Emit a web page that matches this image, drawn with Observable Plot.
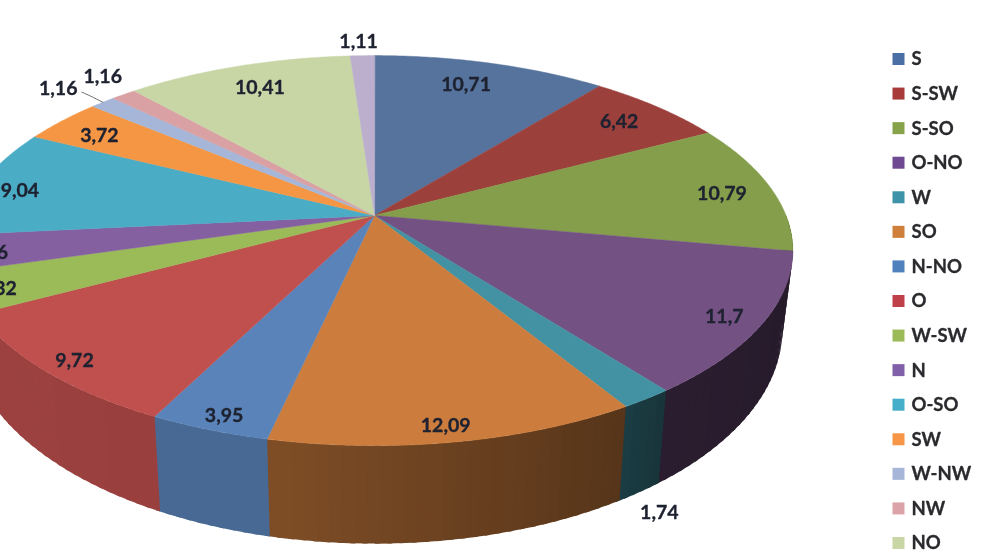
<!DOCTYPE html>
<html><head><meta charset="utf-8">
<style>html,body{margin:0;padding:0;background:#fff;overflow:hidden}
svg{display:block;filter:blur(0.6px)}</style>
<script src="https://cdn.jsdelivr.net/npm/d3@7"></script>
<script src="https://cdn.jsdelivr.net/npm/@observablehq/plot@0.6"></script>
</head><body><div id="chart"></div>
<script>
// Data
const categories = ["S","S-SW","S-SO","O-NO","W","SO","N-NO","O","W-SW","N","O-SO","SW","W-NW","NW","NO","N-NW"];
const values = [10.71,6.42,10.79,11.7,1.74,12.09,3.95,9.72,3.32,2.96,9.04,3.72,1.16,1.16,10.41,1.11];
const topColors = ["#55739c","#9c403c","#849e4b","#735183","#4292a3","#cc7d3d","#5a83b9","#bf504e","#9bbb59","#8460a0","#4bacc6","#f59644","#a5b6d8","#d9a1a3","#c8d6a6","#bbafcd"];
const legendColors = ["#4a6fa5","#a83a3a","#86a34a","#6f4a92","#3f93a8","#cf7f3a","#4f81bd","#c0404a","#9bbb59","#8060a8","#45aec8","#f79646","#a5b6d8","#dba3a8","#c8d6a6"];
// label placement around the pie: distance from the centre, and turn from the slice middle (degrees)
const labelRadius = [.833,.851,.871,.916,1.34,.938,.9415,.93,.93,.925,.893,.857,1.1615,1.141,.8347,1.1065];
const labelTurn = [-1.5,0,1,.6,10.5,.5,-.5,-.6,-.6,-.7,-1.8,-1.1,-1.1,1.7,.4,-.4];
// shading of the rim: angle (deg) -> brightness
const rimAngles = [90,100,143,149,170,192,193,207,241,280];
const rimLight = [.32,.32,.36,.42,.52,.62,.8,.8,.82,.85];

// perspective view of the disc
const view = {cx:374, cy:215, rx:411.5, ry:188.7, k:.18, shrink:.975, ystretch:1.1, depth:75};
const project = (deg, r = 1) => {
  const a = deg * Math.PI / 180, u = r * Math.sin(a), v = r * Math.cos(a), w = 1 + view.k * v;
  return {x: view.cx + view.rx * u / w, y: view.cy - view.ry * v / w};
};
const projectLow = (deg) => {
  const p = project(deg);
  return {x: view.cx + (p.x - view.cx) * view.shrink, y: view.cy + view.depth + (p.y - view.cy) * view.ystretch};
};
const total = d3.sum(values);
const ends = Array.from(d3.cumsum(values), d => d / total * 360);
const starts = ends.map((d, i) => i ? ends[i - 1] : 0);
const mids = ends.map((d, i) => (d + starts[i]) / 2);

// top face polygons
const topFaces = categories.flatMap((c, i) => {
  const n = Math.max(2, Math.ceil((ends[i] - starts[i]) / 0.5));
  const arc = d3.range(n + 1).map(j => project(starts[i] + (ends[i] - starts[i]) * j / n));
  return [project(0, 0), ...arc].map(p => ({...p, id: c, color: topColors[i]}));
});
// rim strips, each overlapping the next so no seams show
const light = d3.scaleLinear(rimAngles, rimLight).clamp(true);
const rimFaces = categories.flatMap((c, i) => {
  const a0 = Math.max(starts[i], 90), a1 = Math.min(ends[i], 275);
  if (a1 <= a0) return [];
  const n = Math.ceil((a1 - a0) / 1.5);
  return d3.range(n).flatMap(j => {
    const t0 = a0 + (a1 - a0) * j / n, t1 = a0 + (a1 - a0) * (j + 1) / n;
    const base = d3.rgb(topColors[i]), f = light((t0 + t1) / 2);
    const color = d3.rgb(base.r * f, base.g * f, base.b * f).formatHex();
    const t2 = t1 + .6;
    return [project(t0), project(t2), projectLow(t2), projectLow(t0)].map(p => ({...p, id: c + j, color}));
  });
});
const labels = categories.map((c, i) => ({
  ...project(mids[i] + labelTurn[i], labelRadius[i]),
  text: String(values[i]).replace(".", ",")
}));
const leaderIndex = categories.indexOf("W-NW");
const leader = [project(mids[leaderIndex], 1), project(mids[leaderIndex] + .3, 1.06), project(mids[leaderIndex] + .3, 1.094)];
const legend = categories.slice(0, legendColors.length).map((c, i) => ({name: c, color: legendColors[i], y: 59 + i * 34.57}));

const font = "Lato, Carlito, sans-serif";
const chart = Plot.plot({
  width: 984, height: 554, margin: 0,
  x: {domain: [0, 984], range: [0, 984], axis: null},
  y: {domain: [0, 554], range: [0, 554], axis: null},
  color: {type: "identity"},
  marks: [
    Plot.line(rimFaces, {x: "x", y: "y", z: "id", fill: "color", stroke: "none", curve: "linear-closed"}),
    Plot.line(topFaces, {x: "x", y: "y", z: "id", fill: "color", stroke: "color", strokeWidth: .5, curve: "linear-closed"}),
    Plot.line(leader, {x: "x", y: "y", stroke: "#6b6b6b", strokeWidth: 1, curve: "basis"}),
    Plot.text(labels, {x: "x", y: "y", text: "text", fill: "#1e2230", stroke: "#1e2230", strokeWidth: .35, fontSize: 19.5, fontWeight: 700, fontFamily: font}),
    Plot.rect(legend, {x1: () => 892.5, x2: () => 904.5, y1: d => d.y - 6, y2: d => d.y + 6, fill: "color"}),
    Plot.text(legend, {x: () => 911, y: "y", text: "name", textAnchor: "start", fill: "#2a2a2e", stroke: "#2a2a2e", strokeWidth: .3, fontSize: 18.5, fontWeight: 700, fontFamily: font})
  ]
});
document.getElementById("chart").append(chart);
</script></body></html>
